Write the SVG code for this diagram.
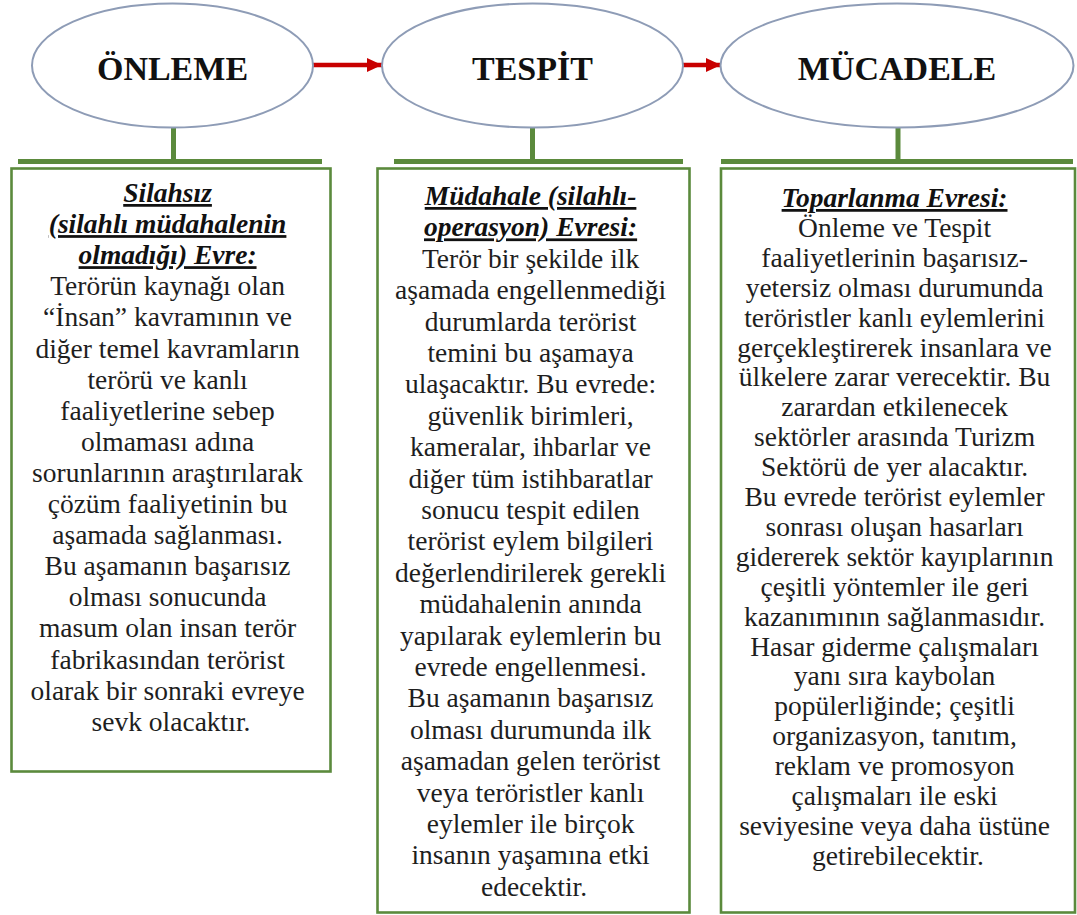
<svg xmlns="http://www.w3.org/2000/svg" width="1077" height="915" viewBox="0 0 1077 915">
<style>
.ell{fill:#ffffff;stroke:#8e9cb6;stroke-width:2}
.title{font-family:"Liberation Serif","Times New Roman",serif;font-weight:bold;font-size:34px;fill:#111;text-anchor:middle}
.box{fill:#ffffff;stroke:#5b8a3c;stroke-width:2.6}
.green{stroke:#5b8a3c;stroke-width:5;fill:none}
.arrow{stroke:#c80000;stroke-width:4.5;fill:none}
.t{font-family:"Liberation Serif","Times New Roman",serif;font-size:27.5px;fill:#1e1e1e;text-anchor:middle}
.h{font-weight:bold;font-style:italic;fill:#111;text-decoration:underline}
</style>
<defs>
<marker id="ah" markerUnits="userSpaceOnUse" markerWidth="16" markerHeight="16" refX="15" refY="8" orient="auto">
<path d="M0,1 L15,8 L0,15 Z" fill="#c80000"/>
</marker>
</defs>
<g id="connectors">
<line class="arrow" x1="313" y1="65" x2="382" y2="65" marker-end="url(#ah)"/>
<line class="arrow" x1="683" y1="65" x2="721" y2="65" marker-end="url(#ah)"/>
<line class="green" x1="173.5" y1="128" x2="173.5" y2="161"/>
<line class="green" x1="18" y1="161.5" x2="322" y2="161.5"/>
<line class="green" x1="532.5" y1="128" x2="532.5" y2="161"/>
<line class="green" x1="394" y1="161.5" x2="683" y2="161.5"/>
<line class="green" x1="898" y1="128" x2="898" y2="161"/>
<line class="green" x1="721" y1="161.5" x2="1073" y2="161.5"/>
</g>
<g id="onleme">
<ellipse class="ell" cx="172.5" cy="65.5" rx="140.5" ry="62"/>
<text class="title" x="172.5" y="80">ÖNLEME</text>
</g>
<g id="tespit">
<ellipse class="ell" cx="532.5" cy="65.5" rx="150.5" ry="62"/>
<text class="title" x="532.5" y="80">TESPİT</text>
</g>
<g id="mucadele">
<ellipse class="ell" cx="897" cy="65.5" rx="176.5" ry="62"/>
<text class="title" x="897" y="80">MÜCADELE</text>
</g>
<g id="box-onleme">
<rect class="box" x="11.5" y="168.5" width="319" height="603"/>
<text class="t" x="171">
<tspan class="h" x="171" y="202">Silahsız</tspan>
<tspan class="h" x="171" y="233.1">(silahlı müdahalenin</tspan>
<tspan class="h" x="171" y="264.2">olmadığı) Evre:</tspan>
<tspan x="171" y="295.3">Terörün kaynağı olan</tspan>
<tspan x="171" y="326.4">“İnsan” kavramının ve</tspan>
<tspan x="171" y="357.5">diğer temel kavramların</tspan>
<tspan x="171" y="388.6">terörü ve kanlı</tspan>
<tspan x="171" y="419.7">faaliyetlerine sebep</tspan>
<tspan x="171" y="450.8">olmaması adına</tspan>
<tspan x="171" y="481.9">sorunlarının araştırılarak</tspan>
<tspan x="171" y="513">çözüm faaliyetinin bu</tspan>
<tspan x="171" y="544.1">aşamada sağlanması.</tspan>
<tspan x="171" y="575.2">Bu aşamanın başarısız</tspan>
<tspan x="171" y="606.3">olması sonucunda</tspan>
<tspan x="171" y="637.4">masum olan insan terör</tspan>
<tspan x="171" y="668.5">fabrikasından terörist</tspan>
<tspan x="171" y="699.6">olarak bir sonraki evreye</tspan>
<tspan x="171" y="730.7">sevk olacaktır.</tspan>
</text>
</g>
<g id="box-tespit">
<rect class="box" x="377.5" y="168.5" width="312" height="744"/>
<text class="t" x="534">
<tspan class="h" x="534" y="205">Müdahale (silahlı-</tspan>
<tspan class="h" x="534" y="236.4">operasyon) Evresi:</tspan>
<tspan x="534" y="267.8">Terör bir şekilde ilk</tspan>
<tspan x="534" y="299.2">aşamada engellenmediği</tspan>
<tspan x="534" y="330.6">durumlarda terörist</tspan>
<tspan x="534" y="362">temini bu aşamaya</tspan>
<tspan x="534" y="393.4">ulaşacaktır. Bu evrede:</tspan>
<tspan x="534" y="424.8">güvenlik birimleri,</tspan>
<tspan x="534" y="456.2">kameralar, ihbarlar ve</tspan>
<tspan x="534" y="487.6">diğer tüm istihbaratlar</tspan>
<tspan x="534" y="519">sonucu tespit edilen</tspan>
<tspan x="534" y="550.4">terörist eylem bilgileri</tspan>
<tspan x="534" y="581.8">değerlendirilerek gerekli</tspan>
<tspan x="534" y="613.2">müdahalenin anında</tspan>
<tspan x="534" y="644.6">yapılarak eylemlerin bu</tspan>
<tspan x="534" y="676">evrede engellenmesi.</tspan>
<tspan x="534" y="707.4">Bu aşamanın başarısız</tspan>
<tspan x="534" y="738.8">olması durumunda ilk</tspan>
<tspan x="534" y="770.2">aşamadan gelen terörist</tspan>
<tspan x="534" y="801.6">veya teröristler kanlı</tspan>
<tspan x="534" y="833">eylemler ile birçok</tspan>
<tspan x="534" y="864.4">insanın yaşamına etki</tspan>
<tspan x="534" y="895.8">edecektir.</tspan>
</text>
</g>
<g id="box-mucadele">
<rect class="box" x="721" y="168.5" width="354" height="744"/>
<text class="t" x="898">
<tspan class="h" x="898" y="207">Toparlanma Evresi:</tspan>
<tspan x="898" y="236.9">Önleme ve Tespit</tspan>
<tspan x="898" y="266.8">faaliyetlerinin başarısız-</tspan>
<tspan x="898" y="296.7">yetersiz olması durumunda</tspan>
<tspan x="898" y="326.6">teröristler kanlı eylemlerini</tspan>
<tspan x="898" y="356.5">gerçekleştirerek insanlara ve</tspan>
<tspan x="898" y="386.4">ülkelere zarar verecektir. Bu</tspan>
<tspan x="898" y="416.3">zarardan etkilenecek</tspan>
<tspan x="898" y="446.2">sektörler arasında Turizm</tspan>
<tspan x="898" y="476.1">Sektörü de yer alacaktır.</tspan>
<tspan x="898" y="506">Bu evrede terörist eylemler</tspan>
<tspan x="898" y="535.9">sonrası oluşan hasarları</tspan>
<tspan x="898" y="565.8">gidererek sektör kayıplarının</tspan>
<tspan x="898" y="595.7">çeşitli yöntemler ile geri</tspan>
<tspan x="898" y="625.6">kazanımının sağlanmasıdır.</tspan>
<tspan x="898" y="655.5">Hasar giderme çalışmaları</tspan>
<tspan x="898" y="685.4">yanı sıra kaybolan</tspan>
<tspan x="898" y="715.3">popülerliğinde; çeşitli</tspan>
<tspan x="898" y="745.2">organizasyon, tanıtım,</tspan>
<tspan x="898" y="775.1">reklam ve promosyon</tspan>
<tspan x="898" y="805">çalışmaları ile eski</tspan>
<tspan x="898" y="834.9">seviyesine veya daha üstüne</tspan>
<tspan x="898" y="864.8">getirebilecektir.</tspan>
</text>
</g>
</svg>
